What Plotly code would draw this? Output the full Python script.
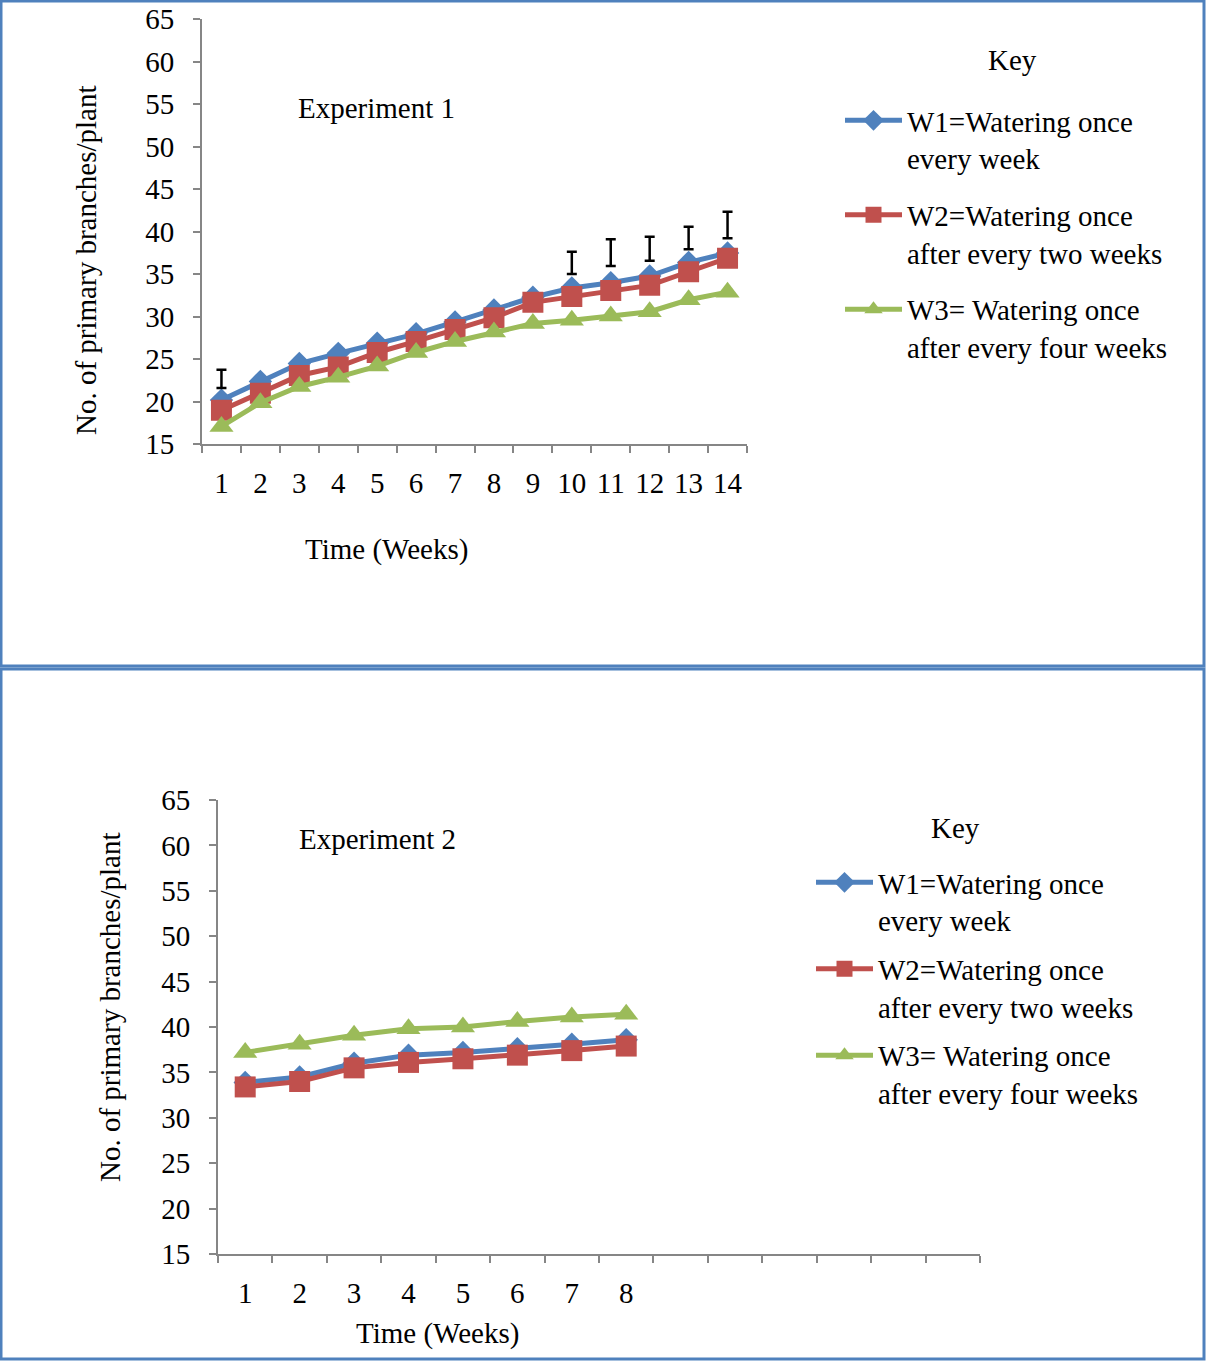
import plotly.graph_objects as go

W, H = 1206, 1361

# ---- Experiment 1 data (14 weeks) ----
weeks_1 = list(range(1, 15))
w1_exp1 = [20.2, 22.4, 24.5, 25.7, 26.9, 28.0, 29.4, 30.8, 32.3, 33.4, 34.0, 34.8, 36.4, 37.5]
w2_exp1 = [19.0, 21.0, 23.1, 24.1, 25.8, 27.1, 28.5, 29.9, 31.7, 32.4, 33.1, 33.7, 35.3, 36.9]
w3_exp1 = [17.1, 19.9, 21.8, 22.9, 24.2, 25.8, 27.1, 28.2, 29.2, 29.6, 30.1, 30.6, 32.0, 32.9]

# LSD-style bars drawn above the lines
err_weeks = [1, 10, 11, 12, 13, 14]
err_center = [22.7, 36.35, 37.55, 38.0, 39.27, 40.8]
err_half = [1.08, 1.31, 1.57, 1.41, 1.33, 1.56]

# ---- Experiment 2 data (8 weeks, axis spans 14 slots) ----
weeks_2 = list(range(1, 9))
w1_exp2 = [33.9, 34.5, 36.0, 36.9, 37.2, 37.6, 38.1, 38.6]
w2_exp2 = [33.4, 34.0, 35.5, 36.1, 36.5, 36.9, 37.4, 37.9]
w3_exp2 = [37.2, 38.1, 39.1, 39.8, 40.0, 40.6, 41.1, 41.4]

series_names = [
    "W1=Watering once<br>every week",
    "W2=Watering once<br>after every two weeks",
    "W3= Watering once<br>after every four weeks",
]
colors = ["#4F81BD", "#C0504D", "#9BBB59"]
symbols = ["diamond", "square", "triangle-up"]
msizes = [18, 21, 21]

FONT = "Liberation Serif"
FS = 29
AXC = "#868686"


def px_x(x):
    return x / W


def px_y(y):
    return 1 - y / H


fig = go.Figure()

top_series = [w1_exp1, w2_exp1, w3_exp1]
bot_series = [w1_exp2, w2_exp2, w3_exp2]

for i in range(3):
    fig.add_trace(go.Scatter(
        x=weeks_1, y=top_series[i], name=series_names[i], mode="lines+markers",
        line=dict(color=colors[i], width=5),
        marker=dict(symbol=symbols[i], size=msizes[i], color=colors[i]),
        xaxis="x", yaxis="y", legend="legend", legendgroup=f"t{i}",
    ))

fig.add_trace(go.Scatter(
    x=err_weeks, y=err_center, mode="markers", showlegend=False,
    marker=dict(size=1, color="rgba(0,0,0,0)"),
    error_y=dict(type="data", array=err_half, visible=True,
                 color="black", thickness=2.5, width=5),
    xaxis="x", yaxis="y", hoverinfo="skip",
))

for i in range(3):
    fig.add_trace(go.Scatter(
        x=weeks_2, y=bot_series[i], name=series_names[i], mode="lines+markers",
        line=dict(color=colors[i], width=5),
        marker=dict(symbol=symbols[i], size=msizes[i], color=colors[i]),
        xaxis="x2", yaxis="y2", legend="legend2", legendgroup=f"b{i}",
    ))

tickfont = dict(family=FONT, size=FS, color="black")


def yaxis_cfg(domain, anchor):
    return dict(
        domain=domain, anchor=anchor, range=[15, 65], dtick=5, tick0=15,
        showgrid=False, zeroline=False, showline=True, linecolor=AXC, linewidth=2,
        ticks="outside", ticklen=7, tickwidth=2, tickcolor=AXC,
        tickfont=tickfont, ticklabelstandoff=13,
    )


def xaxis_cfg(domain, anchor, labels):
    return dict(
        domain=domain, anchor=anchor, range=[0.5, 14.5],
        tickmode="array", tickvals=list(range(1, len(labels) + 1)), ticktext=[str(v) for v in labels],
        ticks="", showgrid=False, zeroline=False, showline=True,
        linecolor=AXC, linewidth=2, tickfont=tickfont, ticklabelstandoff=12,
        minor=dict(tickmode="array", tickvals=[k + 0.5 for k in range(0, 15)],
                   ticks="outside", ticklen=7, tickwidth=2, tickcolor=AXC, showgrid=False),
    )


shapes = [
    dict(type="rect", xref="paper", yref="paper",
         x0=px_x(1), x1=px_x(1204), y0=px_y(1), y1=px_y(666),
         line=dict(color="#4F81BD", width=3)),
    dict(type="rect", xref="paper", yref="paper",
         x0=px_x(1), x1=px_x(1204), y0=px_y(669), y1=px_y(1359),
         line=dict(color="#4F81BD", width=3)),
]

ann_font = dict(family=FONT, size=FS, color="black")


def label(text, x, y, angle=0):
    return dict(text=text, x=px_x(x), y=px_y(y), xref="paper", yref="paper",
                xanchor="center", yanchor="middle", showarrow=False,
                font=ann_font, textangle=angle)


annotations = [
    label("Experiment 1", 376, 108),
    label("Time (Weeks)", 386, 549),
    label("No. of primary branches/plant", 86, 260, -90),
    label("Key", 1012, 60),
    label("Experiment 2", 377, 839),
    label("Time (Weeks)", 437, 1333),
    label("No. of primary branches/plant", 110, 1007, -90),
    label("Key", 955, 828),
]

legend_base = dict(
    font=dict(family=FONT, size=FS, color="black"), bgcolor="rgba(0,0,0,0)",
    xanchor="left", yanchor="top", valign="top",
    itemwidth=57, traceorder="grouped",
)

fig.update_layout(
    width=W, height=H, margin=dict(l=0, r=0, t=0, b=0, pad=0, autoexpand=False),
    paper_bgcolor="white", plot_bgcolor="white",
    xaxis=xaxis_cfg([px_x(202), px_x(747)], "y", weeks_1),
    yaxis=yaxis_cfg([px_y(444.3), px_y(19.3)], "x"),
    xaxis2=xaxis_cfg([px_x(218), px_x(980)], "y2", weeks_2),
    yaxis2=yaxis_cfg([px_y(1254), px_y(800)], "x2"),
    legend=dict(**legend_base, x=px_x(840), y=px_y(95), tracegroupgap=16),
    legend2=dict(**legend_base, x=px_x(811), y=px_y(857), tracegroupgap=8),
    shapes=shapes, annotations=annotations, showlegend=True,
)

fig.write_html("out.html")
